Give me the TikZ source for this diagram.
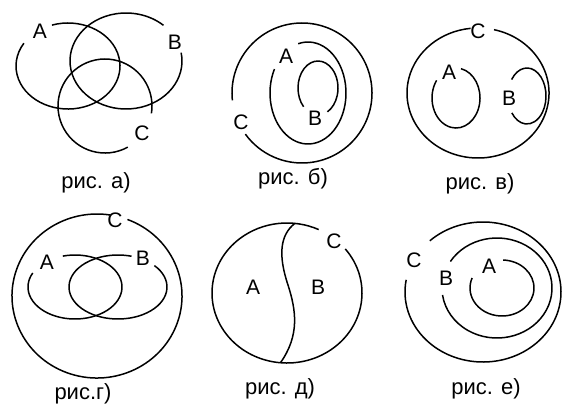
\documentclass[tikz,border=0pt]{standalone}
\usepackage{fontspec}
\setmainfont{Liberation Sans}
\usetikzlibrary{calc}
\begin{document}
\begin{tikzpicture}[x=1pt,y=-1pt,
  setline/.style={line width=1.5pt,black},
  lbl/.style={font=\fontsize{21}{23}\selectfont,inner sep=0pt},
  captxt/.style={font=\fontsize{22}{24}\selectfont,inner sep=0pt}]
\useasboundingbox (0,0) rectangle (562,408);
\newcommand\earc[6]{\draw[setline] ($(#1,#2)+(#5:#3 and #4)$) arc[start angle=#5,end angle=#6,x radius=#3,y radius=#4];}
% ---- a
\earc{68}{66}{52}{43}{-108}{212}
\earc{126}{61}{56}{48}{-10}{312}
\earc{105}{106}{47}{47}{61}{369}
\node[lbl] (aA) at (40,31) {A};
\node[lbl] (aB) at (175,42) {B};
\node[lbl] (aC) at (142,133) {C};
\node[captxt] (ca) at (96,183) {рис. а)};
% ---- b
\earc{302}{93}{70}{70}{174}{504}
\earc{308}{93}{38}{51}{-105}{208}
\earc{318}{88}{20}{27}{136}{422}
\node[lbl] (bA) at (286,56) {A};
\node[lbl] (bB) at (315,118) {B};
\node[lbl] (bC) at (241,122) {C};
\node[captxt] (cb) at (293,179) {рис. б)};
% ---- v
\earc{478}{93}{71}{65}{-77}{264}
\earc{456}{98}{24}{30}{-78}{216}
\earc{527}{96}{19}{28}{-144}{143}
\node[lbl] (vA) at (449,72) {A};
\node[lbl] (vB) at (509,98) {B};
\node[lbl] (vC) at (478,31) {C};
\node[captxt] (cv) at (480,184) {рис. в)};
% ---- g
\earc{97}{296}{85}{82}{-69}{279}
\earc{75}{287}{47}{32}{-105}{206}
\earc{118}{287}{49}{32}{-42}{286}
\node[lbl] (gA) at (47,262) {A};
\node[lbl] (gB) at (143,258) {B};
\node[lbl] (gC) at (115,220) {C};
\node[captxt] (cg) at (83,394) {рис.г)};
% ---- d
\earc{287}{293}{75}{70}{-39}{295}
\coordinate (dtop) at ($(287,293)+(-84:75 and 70)$);
\coordinate (dbot) at ($(287,293)+(95:75 and 70)$);
\draw[setline] (dtop) .. controls (280,235) and (278,255) .. (288,285)
  .. controls (296,310) and (300,335) .. (dbot);
\node[lbl] (dA) at (253,287) {A};
\node[lbl] (dB) at (318,287) {B};
\node[lbl] (dC) at (334,241) {C};
\node[captxt] (cd) at (280,389) {рис. д)};
% ---- e
\earc{483}{292}{78}{70}{-133}{190}
\earc{497}{288}{55}{50}{-148}{172}
\earc{502}{288}{32}{28}{-88}{201}
\node[lbl] (eA) at (489,266) {A};
\node[lbl] (eB) at (446,278) {B};
\node[lbl] (eC) at (414,260) {C};
\node[captxt] (ce) at (486,389) {рис. е)};
\end{tikzpicture}
\end{document}
